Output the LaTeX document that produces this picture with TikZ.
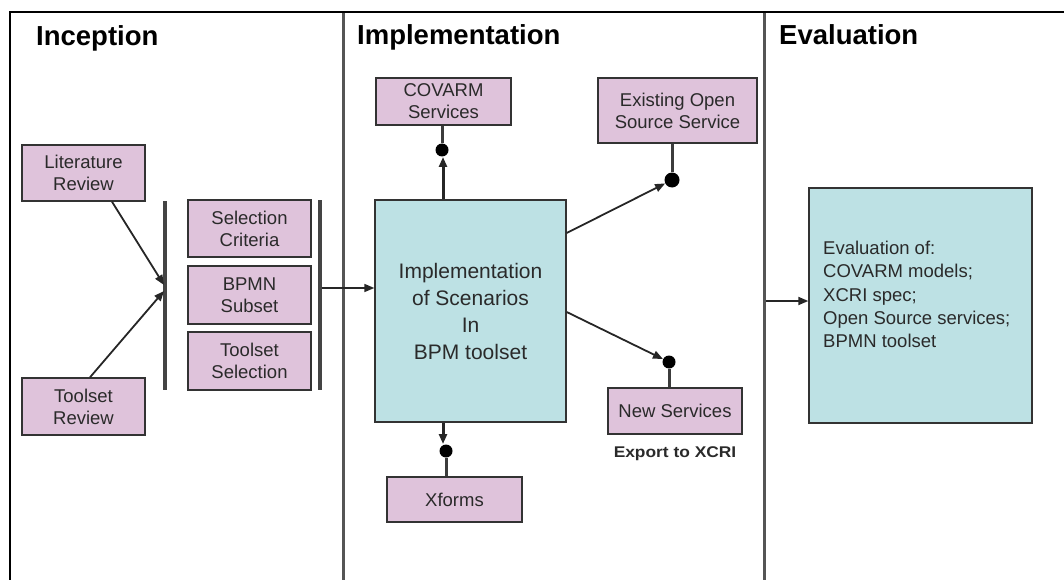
\documentclass[tikz,border=0pt]{standalone}
\usepackage{fontspec}
\setmainfont{Liberation Sans}
\usetikzlibrary{arrows.meta}

\definecolor{taskpink}{HTML}{DFC3DB}
\definecolor{maincyan}{HTML}{BDE1E4}
\definecolor{edgegray}{HTML}{333333}
\definecolor{lanegray}{HTML}{555555}
\definecolor{txtgray}{HTML}{2A2A2A}

\tikzset{
  lanetitle/.style={anchor=base west, inner sep=0pt, font=\fontsize{27.5}{30}\selectfont\bfseries},
  taskbox/.style={draw=edgegray, line width=1.4pt, fill=taskpink, align=center,
    inner sep=0pt, text=txtgray, font=\fontsize{18.5}{22}\selectfont},
  bigbox/.style={draw=edgegray, line width=1.4pt, fill=maincyan, align=center,
    inner sep=0pt, text=txtgray},
  joinbar/.style={draw=lanegray!80!black, line width=3.5pt},
  lane/.style={draw=lanegray, line width=3pt},
  flow/.style={draw=black!85, line width=1.8pt, -{Triangle[length=10pt,width=8pt]}},
  link/.style={draw=lanegray!70!black, line width=3pt},
  gate/.style={circle, fill=black, inner sep=0pt, minimum size=13pt},
}

\begin{document}
\begin{tikzpicture}[x=1pt, y=-1pt]
\useasboundingbox (0,0) rectangle (1064,580);

% frame and swimlanes
\draw[line width=2.5pt] (1064,12) -- (10,12) -- (10,580);
\draw[lane] (343,13) -- (343,580);
\draw[lane] (764,13) -- (764,580);

\node[lanetitle] (t1) at (36,46) {Inception};
\node[lanetitle] (t2) at (357,45) {Implementation};
\node[lanetitle] (t3) at (779,45) {Evaluation};

% inception lane
\node[taskbox, minimum width=123pt, minimum height=56pt] (lit) at (83.5,173) {Literature\\Review};
\node[taskbox, minimum width=123pt, minimum height=57pt] (trev) at (83.5,406.5) {Toolset\\Review};
\node[taskbox, minimum width=123pt, minimum height=57pt] (crit) at (249.5,228.5) {Selection\\Criteria};
\node[taskbox, minimum width=123pt, minimum height=58pt] (bpmn) at (249.5,295) {BPMN\\Subset};
\node[taskbox, minimum width=123pt, minimum height=58pt] (tsel) at (249.5,361) {Toolset\\Selection};

\coordinate (b1top) at (165,201);
\coordinate (b1bot) at (165,390);
\coordinate (b2top) at (320,200);
\coordinate (b2bot) at (320,390);
\draw[joinbar] (b1top) -- (b1bot);
\draw[joinbar] (b2top) -- (b2bot);

\coordinate (in1) at (164,285);
\coordinate (in2) at (164,291);
\draw[flow] ([xshift=28.5pt]lit.south) -- (in1);
\draw[flow] ([xshift=6.5pt]trev.north) -- (in2);

% implementation lane
\node[bigbox, minimum width=191pt, minimum height=222pt,
      font=\fontsize{21}{27}\selectfont] (impl) at (470.5,311)
      {Implementation\\of Scenarios\\In\\BPM toolset};

\coordinate (out2) at (321.5,288);
\draw[flow, line width=1.6pt] (out2) -- (out2 -| impl.west);

\node[taskbox, minimum width=135pt, minimum height=47pt] (cov) at (443.5,101.5) {COVARM\\Services};
\node[taskbox, minimum width=159pt, minimum height=65pt] (exist) at (677.5,110.5) {Existing Open\\Source Service};
\node[taskbox, minimum width=134pt, minimum height=46pt] (news) at (675,411) {New Services};
\node[taskbox, minimum width=135pt, minimum height=45pt] (xf) at (454.5,499.5) {Xforms};

\node[gate] (g1) at (442,150) {};
\node[gate, minimum size=15pt] (g2) at (672,180) {};
\node[gate] (g3) at (669,362) {};
\node[gate] (g4) at (446,451) {};

\draw[link] (g1) -- (cov.south -| g1);
\draw[flow, line width=3pt] (impl.north -| 443,0) -- (443,157);

\draw[link] (g2) -- (exist.south -| g2);
\draw[flow] ([yshift=78pt]impl.east) -- (g2);

\draw[link] (g3) -- (news.north -| g3);
\draw[flow] ([yshift=-1pt]impl.east) -- (g3);

\draw[link] (g4) -- (xf.north -| g4);
\draw[flow, line width=3pt] (impl.south -| 443,0) -- (443,444);

\node[inner sep=0pt, text=txtgray, font=\fontsize{15.5}{18}\selectfont\bfseries,
      xscale=1.12] (exp) at (675,454) {Export to XCRI};

% evaluation lane
\node[bigbox, minimum width=223pt, minimum height=235pt] (ev) at (920.5,305.5) {};
\node[anchor=west, align=left, inner sep=0pt, text=txtgray,
      font=\fontsize{18.5}{23.3}\selectfont] (evtext) at (823,294.5)
      {Evaluation of:\\COVARM models;\\XCRI spec;\\Open Source services;\\BPMN toolset};

\coordinate (in3) at (765.5,301);
\draw[flow] (in3) -- (in3 -| ev.west);

\end{tikzpicture}
\end{document}
